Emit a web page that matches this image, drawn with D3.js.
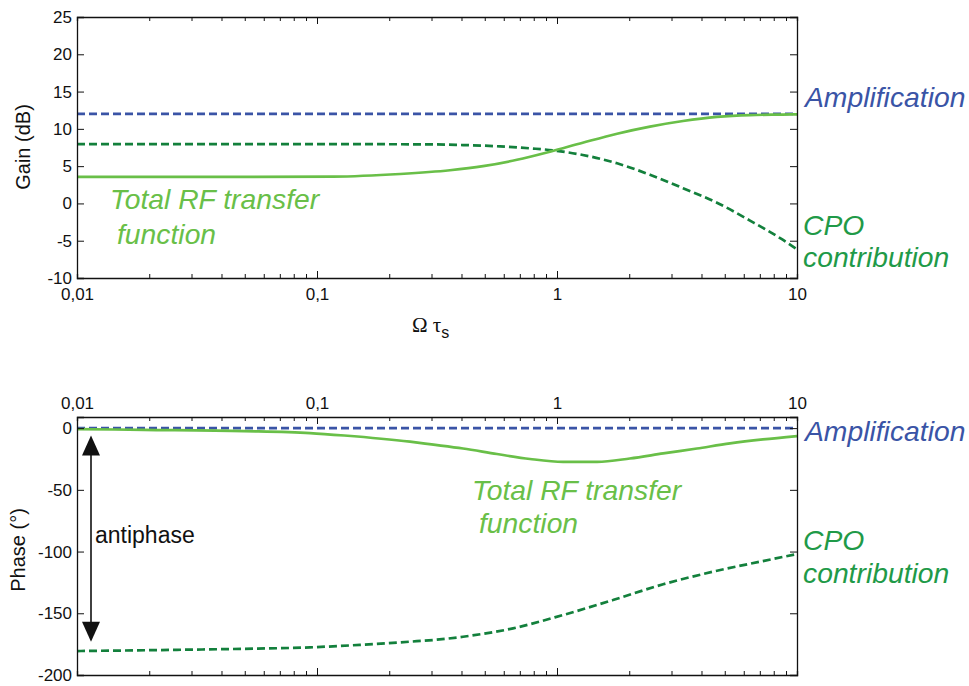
<!DOCTYPE html>
<html>
<head>
<meta charset="utf-8">
<script src="https://cdn.jsdelivr.net/npm/d3@7.9.0/dist/d3.min.js"></script>
<style>
  body { margin: 0; background: #fff; }
  svg { font-family: "Liberation Sans", Arial, sans-serif; }
  .tick text { font-size: 17px; fill: #111; font-family: "Liberation Sans", Arial, sans-serif; }
  .label-it { font-style: italic; font-size: 28.3px; }
</style>
</head>
<body>
<svg id="chart" width="969" height="686"></svg>
<script>
// --- data ---
const majorTicks = [0.01, 0.1, 1, 10];
const majorLabels = ["0,01", "0,1", "1", "10"];

const ampX = [0.01, 10];
const ampGain = [12, 12];
const ampPhase = [0, 0];

const totalGainX = [0.01, 0.05, 0.117, 0.222, 0.358, 0.492, 0.681, 0.935, 1.28, 1.78, 2.44, 3.35, 4.64, 6.37, 8.75, 10];
const totalGain = [3.55, 3.56, 3.6, 3.95, 4.45, 5.0, 5.85, 6.94, 8.14, 9.35, 10.3, 11.05, 11.6, 11.85, 11.92, 11.95];

const cpoGainX = [0.01, 0.1, 0.3, 0.406, 0.579, 0.794, 0.962, 1.28, 1.78, 2.44, 3.35, 4.64, 6.37, 8.75, 10];
const cpoGain = [7.95, 7.95, 7.92, 7.83, 7.65, 7.36, 7.12, 6.5, 5.38, 3.85, 2.05, 0.1, -2.3, -4.9, -6.15];

const totalPhaseX = [0.01, 0.019, 0.0496, 0.0935, 0.13, 0.244, 0.3, 0.406, 0.562, 0.772, 1.06, 1.47, 2.01, 2.77, 3.83, 5.26, 7.21, 10];
const totalPhase = [-0.8, -1.4, -2.4, -4.0, -6.0, -11, -13.2, -16.5, -21.0, -25.0, -27.3, -27.3, -24.6, -20.5, -16.5, -12.4, -9.2, -6.5];

const cpoPhaseX = [0.01, 0.0261, 0.0496, 0.0935, 0.151, 0.244, 0.316, 0.406, 0.656, 1.06, 1.71, 2.77, 4.47, 7.21, 10];
const cpoPhase = [-180.6, -179.6, -178.8, -177.6, -175.6, -173, -171.4, -169, -162.2, -151.4, -139.3, -126.5, -116.3, -107.7, -102];

const gainTicks = d3.range(-10, 26, 5);
const phaseTicks = d3.range(-200, 1, 50);

// --- colours ---
const blue = "#3a54a6";
const darkGreen = "#13803c";
const lightGreen = "#69bf48";
const cpoText = "#1f9a48";

const svg = d3.select("#chart");

const x = d3.scaleLog().domain([0.01, 10]).range([77, 797]);
const yGain = d3.scaleLinear().domain([-10, 25]).range([278, 17]);
const yPhase = d3.scaleLinear().domain([-200, 9]).range([675, 417]);

const allTicks = [];
[0.01, 0.1, 1].forEach(d => { for (let k = 1; k < 10; k++) allTicks.push(d * k); });
allTicks.push(10);
const isMajor = v => majorTicks.some(m => Math.abs(m - v) / m < 1e-6);
const fmtX = v => { const i = majorTicks.findIndex(m => Math.abs(m - v) / m < 1e-6); return i >= 0 ? majorLabels[i] : ""; };
const fmtY = v => String(v); // plain hyphen minus, like the original

function styleAxis(g) {
  g.select(".domain").attr("stroke", "#111").attr("stroke-width", 1.3);
  g.selectAll(".tick line").attr("stroke", "#111").attr("stroke-width", 1);
}

function xAxes(y, labelTop) {
  const [y0, y1] = [y.range()[0], y.range()[1]];
  const bottom = d3.axisBottom(x).tickValues(allTicks).tickSizeOuter(0).tickSize(-4).tickPadding(10)
    .tickFormat(labelTop ? () => "" : fmtX);
  const gb = svg.append("g").attr("transform", `translate(0,${y0})`).call(bottom);
  gb.selectAll(".tick line").attr("y2", d => isMajor(d) ? -7 : -4);
  styleAxis(gb);
  const top = d3.axisTop(x).tickValues(allTicks).tickSizeOuter(0).tickSize(-4).tickPadding(8)
    .tickFormat(labelTop ? fmtX : () => "");
  const gt = svg.append("g").attr("transform", `translate(0,${y1})`).call(top);
  gt.selectAll(".tick line").attr("y2", d => isMajor(d) ? 7 : 4);
  styleAxis(gt);
}

function yAxes(y, ticks) {
  const left = d3.axisLeft(y).tickValues(ticks).tickSizeOuter(0).tickSize(-7).tickPadding(5).tickFormat(fmtY);
  const gl = svg.append("g").attr("transform", `translate(77,0)`).call(left);
  styleAxis(gl);
  const right = d3.axisRight(y).tickValues(ticks).tickSizeOuter(0).tickSize(-7).tickFormat(() => "");
  const gr = svg.append("g").attr("transform", `translate(797,0)`).call(right);
  styleAxis(gr);
}

function drawLine(xs, ys, y, color, dashed) {
  const pts = xs.map((d, i) => [d, ys[i]]);
  const line = d3.line().x(d => x(d[0])).y(d => y(d[1])).curve(d3.curveMonotoneX);
  svg.append("path").datum(pts)
    .attr("d", line)
    .attr("fill", "none")
    .attr("stroke", color)
    .attr("stroke-width", 2.7)
    .attr("stroke-dasharray", dashed ? "8,4" : null);
}

// --- top panel: gain ---
drawLine(ampX, ampGain, yGain, blue, true);
drawLine(cpoGainX, cpoGain, yGain, darkGreen, true);
drawLine(totalGainX, totalGain, yGain, lightGreen, false);
xAxes(yGain, false);
yAxes(yGain, gainTicks);

svg.append("text").attr("transform", "translate(30,147) rotate(-90)")
  .attr("text-anchor", "middle").attr("font-size", 20).attr("fill", "#111").text("Gain (dB)");

const xl = svg.append("text").attr("x", 412).attr("y", 332)
  .attr("font-family", "'Liberation Serif', 'DejaVu Serif', serif").attr("font-size", 21).attr("fill", "#111");
xl.append("tspan").text("Ω τ");
xl.append("tspan").attr("dy", 6).attr("font-size", 16).attr("font-family", "'Liberation Sans', Arial, sans-serif").text("s");

svg.append("text").attr("class", "label-it").attr("x", 805).attr("y", 107).attr("fill", blue).text("Amplification");
svg.append("text").attr("class", "label-it").attr("x", 803).attr("y", 235).attr("fill", cpoText).text("CPO");
svg.append("text").attr("class", "label-it").attr("x", 803).attr("y", 267).attr("fill", cpoText).text("contribution");
svg.append("text").attr("class", "label-it").attr("x", 110).attr("y", 209).attr("fill", lightGreen).text("Total RF transfer");
svg.append("text").attr("class", "label-it").attr("x", 117).attr("y", 244).attr("fill", lightGreen).text("function");

// --- bottom panel: phase ---
drawLine(ampX, ampPhase, yPhase, blue, true);
drawLine(cpoPhaseX, cpoPhase, yPhase, darkGreen, true);
drawLine(totalPhaseX, totalPhase, yPhase, lightGreen, false);
xAxes(yPhase, true);
yAxes(yPhase, phaseTicks);

svg.append("text").attr("transform", "translate(25,550) rotate(-90)")
  .attr("text-anchor", "middle").attr("font-size", 20).attr("fill", "#111").text("Phase (°)");

svg.append("text").attr("class", "label-it").attr("x", 805).attr("y", 441).attr("fill", blue).text("Amplification");
svg.append("text").attr("class", "label-it").attr("x", 803).attr("y", 550).attr("fill", cpoText).text("CPO");
svg.append("text").attr("class", "label-it").attr("x", 803).attr("y", 583).attr("fill", cpoText).text("contribution");
svg.append("text").attr("class", "label-it").attr("x", 472).attr("y", 500).attr("fill", lightGreen).text("Total RF transfer");
svg.append("text").attr("class", "label-it").attr("x", 479).attr("y", 533).attr("fill", lightGreen).text("function");

// antiphase arrow
const ax = 91;
const aTop = yPhase(-6), aBot = yPhase(-173);
svg.append("line").attr("x1", ax).attr("x2", ax).attr("y1", aTop + 18).attr("y2", aBot - 18)
  .attr("stroke", "#111").attr("stroke-width", 1.6);
svg.append("path").attr("d", `M${ax},${aTop} L${ax - 9},${aTop + 20} L${ax + 9},${aTop + 20} Z`).attr("fill", "#111");
svg.append("path").attr("d", `M${ax},${aBot} L${ax - 9},${aBot - 20} L${ax + 9},${aBot - 20} Z`).attr("fill", "#111");
svg.append("text").attr("x", 95).attr("y", 543).attr("font-size", 23).attr("fill", "#111").text("antiphase");
</script>
</body>
</html>
